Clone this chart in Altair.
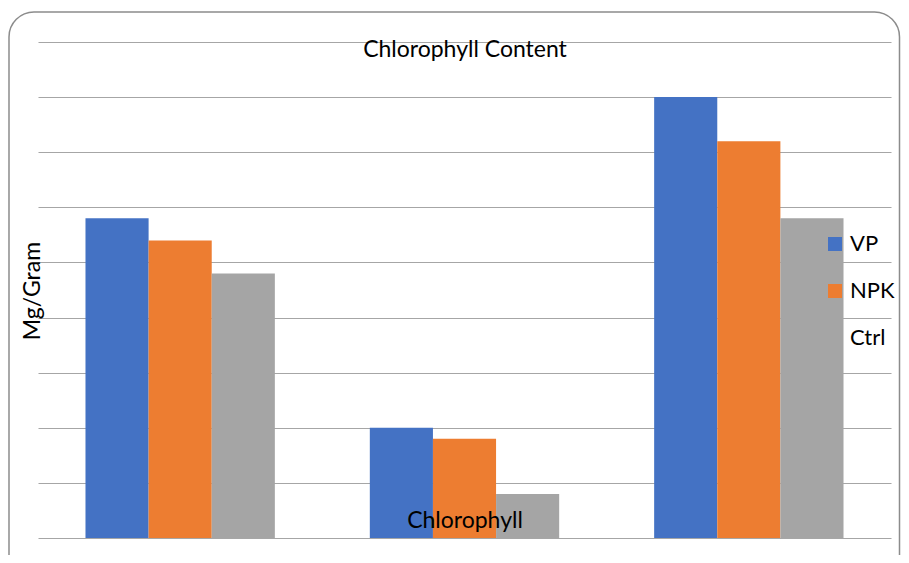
import altair as alt
import pandas as pd

groups = ["Chlorophyll a", "Chlorophyll b", "Total chlorophyll"]
series = ["VP", "NPK", "Ctrl"]
vp = [5.8, 2.0, 8.0]
npk = [5.4, 1.8, 7.2]
ctrl = [4.8, 0.8, 5.8]
colors = ["#4472C4", "#ED7D31", "#A5A5A5"]
ticks = [0, 1, 2, 3, 4, 5, 6, 7, 8, 9]

rows = []
for i, g in enumerate(groups):
    for s, vals in zip(series, [vp, npk, ctrl]):
        rows.append({"group": g, "series": s, "value": vals[i]})
df = pd.DataFrame(rows)

W, H = 853, 496
FONT = "Lato"

bars = alt.Chart(df).mark_bar().encode(
    x=alt.X("group:N", sort=groups,
            scale=alt.Scale(paddingInner=0.334, paddingOuter=0.167), axis=None),
    xOffset=alt.XOffset("series:N", sort=series,
                        scale=alt.Scale(paddingInner=0, paddingOuter=0)),
    y=alt.Y("value:Q", scale=alt.Scale(domain=[0, 9], nice=False),
            axis=alt.Axis(values=ticks, grid=True, labels=False, ticks=False,
                          domain=False, title=None, gridColor="#A6A6A6",
                          gridWidth=1.2)),
    color=alt.Color("series:N", sort=series,
                    scale=alt.Scale(domain=series, range=colors),
                    legend=alt.Legend(orient="none", legendX=786, legendY=191,
                                      title=None, symbolType="square",
                                      symbolSize=196, symbolStrokeWidth=0,
                                      labelFontSize=22, labelFont=FONT,
                                      labelColor="#000000", labelOffset=4,
                                      rowPadding=25, padding=0)),
)

title = alt.Chart(pd.DataFrame({"t": ["Chlorophyll Content"]})).mark_text(
    font=FONT, fontSize=23, color="#000000", baseline="middle", align="center"
).encode(x=alt.value(427), y=alt.value(8), text="t:N")

xtitle = alt.Chart(pd.DataFrame({"t": ["Chlorophyll"]})).mark_text(
    font=FONT, fontSize=23, color="#000000", baseline="middle", align="center"
).encode(x=alt.value(427), y=alt.value(479), text="t:N")

ytitle = alt.Chart(pd.DataFrame({"t": ["Mg/Gram"]})).mark_text(
    font=FONT, fontSize=23, color="#000000", baseline="middle", align="center",
    angle=270
).encode(x=alt.value(-5), y=alt.value(249), text="t:N")

frame = alt.Chart(pd.DataFrame({"f": [1]})).mark_rect(
    fill=None, stroke="#8C8C8C", strokeWidth=1.5, cornerRadius=25
).encode(x=alt.value(-29), x2=alt.value(861.5), y=alt.value(-30), y2=alt.value(560))

chart = alt.layer(bars, title, xtitle, ytitle, frame).properties(
    width=W, height=H,
    autosize=alt.AutoSizeParams(type="none"),
    padding={"left": 30, "top": 34, "right": 10, "bottom": 17},
).configure_view(stroke=None)

chart.save("out.html", embed_options={"renderer": "svg", "actions": False})
